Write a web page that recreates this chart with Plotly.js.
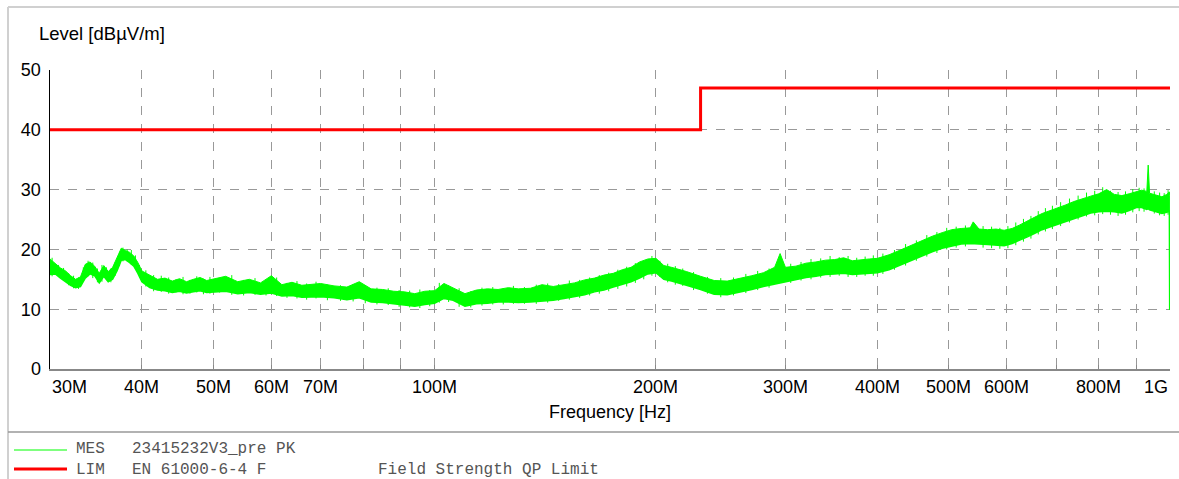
<!DOCTYPE html>
<html>
<head>
<meta charset="utf-8">
<script src="https://cdn.plot.ly/plotly-3.0.1.min.js"></script>
<style>
html,body{margin:0;padding:0;background:#fff;}
#chart{width:1179px;height:479px;}
</style>
</head>
<body>
<div id="chart"></div>
<script>
const mesFreq = [30,30.5,31,31.5,32,32.5,33,33.5,34,34.5,35,35.5,36,36.5,37,37.5,38,38.5,39,39.5,
  40,41,42,43,44,45,46,47,48,49,50,52,54,56,58,60,62,64,66,68,70,73,76,79,82,85,88,91,94,97,
  100,103,106,110,114,118,122,126,130,135,140,145,150,155,160,165,170,175,180,185,190,195,200,
  205,210,215,220,230,240,250,260,270,280,290,295,300,310,320,330,340,350,360,370,380,390,400,
  415,430,445,460,475,490,505,520,535,540,550,565,580,595,610,625,640,655,670,685,700,720,740,
  760,780,800,820,840,860,880,900,915,930,934,938,945,960,975,990,998,999,1000];
const mesLow = [15.8,15.9,15.2,14.6,14.0,13.6,13.8,15.2,15.9,15.6,14.4,15.5,14.6,15.0,16.4,18.2,18.3,17.8,17.2,16.0,
  14.6,13.6,13.2,13.1,12.8,13.0,12.7,12.9,13.1,12.8,12.9,13.0,12.6,12.8,12.5,12.7,12.2,12.3,12.0,12.0,12.1,11.9,11.6,11.9,11.2,11.1,10.9,10.8,10.5,10.8,
  11.0,11.8,11.5,10.5,10.9,11.0,11.2,11.2,11.1,11.2,11.3,11.5,11.8,12.1,12.4,12.9,13.2,13.7,14.1,14.6,15.2,15.9,16.1,
  15.0,14.7,14.3,14.0,13.3,12.5,12.4,12.8,13.3,13.8,14.2,14.4,14.6,14.9,15.3,15.5,15.8,15.9,16.0,15.8,15.9,16.0,16.1,
  16.6,17.4,18.2,18.9,19.6,20.2,20.6,20.9,21.0,21.0,20.9,20.8,20.7,20.6,21.0,21.5,22.1,22.7,23.3,23.7,24.1,24.6,25.2,
  25.7,26.1,26.3,26.4,26.3,26.1,26.5,27.0,27.0,26.7,26.8,26.6,26.5,26.3,26.0,26.2,26.4,10.0,10.0];
const mesHigh = [18.4,17.6,16.9,16.4,15.6,15.0,15.4,17.5,17.9,17.2,16.0,17.3,16.3,17.0,18.6,20.2,19.8,19.5,18.9,17.8,
  16.4,15.7,15.0,15.2,14.7,15.1,14.6,15.0,15.3,14.8,15.0,15.5,14.6,15.0,14.4,15.6,14.1,14.5,14.0,14.2,14.3,13.9,13.7,14.6,13.4,13.3,13.0,12.9,12.6,13.0,
  13.1,14.3,13.6,12.6,13.2,13.4,13.3,13.6,13.4,13.5,14.1,13.8,14.1,14.4,14.9,15.2,15.7,16.0,16.6,17.0,17.9,18.4,18.5,
  17.3,17.0,16.7,16.3,15.5,14.8,14.7,15.1,15.6,16.1,17.0,19.3,17.0,17.2,17.7,17.9,18.2,18.3,18.6,18.1,18.3,18.4,18.5,
  19.1,19.9,20.7,21.4,22.2,22.8,23.3,23.5,23.6,24.6,23.4,23.3,23.4,23.2,23.5,24.1,24.8,25.4,26.0,26.4,26.9,27.4,28.0,
  28.5,28.9,29.3,30.0,29.2,29.0,29.3,29.7,29.9,29.7,34.1,29.4,29.3,29.0,28.8,29.2,29.6,29.0,10.0];

// Individual noise peaks of the measured trace (frequency MHz, lowest / highest excursion dBµV/m)
const peakFreq = [30.2,30.8,31.3,31.8,32.3,32.8,33.3,33.8,34.3,34.8,35.3,35.8,36.3,36.8,37.3,37.7,38.2,38.7,39.2,39.7,
  40.5,41.5,42.5,43.5,44.5,45.5,46.5,47.5,48.5,49.5,51,53,55,57,59,61,63,65,67,69,71.5,74.5,77.5,80.5,83.5,86.5,89.5,92.5,95.5,98.5,
  101.5,104.5,108,112,116,120,124,128,132.5,137.5,142.5,147.5,152.5,157.5,162.5,167.5,172.5,177.5,182.5,187.5,192.5,197.5,
  202.5,207.5,212.5,217.5,225,235,245,255,265,275,285,305,315,325,335,345,355,365,375,385,395,
  407,422,437,452,467,482,497,512,527,557,572,587,602,617,632,647,662,677,692,710,730,750,770,790,810,830,850,870,890,908,922,952,968,982,994];
const peakLow = [15.5,15.6,14.9,14.0,13.5,13.4,14.6,15.5,15.2,14.5,14.6,14.9,14.5,15.6,17.2,18.0,18.0,17.4,16.8,15.3,
  13.8,13.0,12.9,12.6,12.8,12.5,12.6,12.8,12.5,12.6,12.8,12.4,12.3,12.4,12.3,12.2,11.9,11.8,11.6,11.8,11.5,11.4,11.3,11.0,10.8,10.7,10.4,10.3,10.2,10.5,
  11.1,11.2,10.4,10.3,10.6,10.8,10.8,10.9,10.9,10.9,11.1,11.4,11.6,11.9,12.3,12.6,13.0,13.4,13.8,14.4,15.0,15.6,
  15.4,14.5,14.1,13.9,13.2,12.6,12.0,12.3,12.7,13.2,13.6,14.4,14.8,15.0,15.3,15.4,15.6,15.4,15.4,15.6,15.6,
  15.9,16.6,17.3,18.1,18.8,19.4,20.0,20.3,20.5,20.3,20.2,20.1,20.2,20.7,21.3,21.8,22.5,23.0,23.4,23.9,24.5,25.0,25.5,25.7,25.9,25.8,25.6,25.8,26.2,26.4,26.3,26.0,25.7,25.6,25.8];
const peakHigh = [18.6,17.4,16.9,16.0,15.6,15.3,17.0,18.1,17.8,16.8,17.4,17.0,16.8,17.9,19.6,20.3,20.0,19.9,19.0,17.4,
  16.5,15.7,15.6,15.3,15.0,15.4,14.9,15.5,15.1,15.4,15.2,15.7,14.9,15.2,14.9,15.3,14.4,14.7,14.3,14.6,14.1,14.0,14.2,14.0,13.6,13.5,13.2,13.1,13.3,13.2,
  14.4,14.0,13.5,13.0,13.6,13.7,13.5,13.9,13.7,14.1,14.3,14.2,14.8,14.9,15.3,15.7,16.1,16.6,17.1,17.7,18.1,18.9,
  18.1,17.6,17.2,16.8,16.2,15.4,15.2,15.3,15.9,16.4,16.8,17.6,17.9,18.4,18.5,18.9,18.7,18.9,18.6,18.8,19.0,
  19.3,19.9,20.9,21.5,22.4,22.9,23.6,23.8,24.0,23.9,23.8,23.6,23.9,24.5,25.1,25.6,26.4,26.9,27.3,27.9,28.5,29.0,29.5,29.8,30.4,29.8,29.6,29.7,30.1,30.3,30.2,29.7,29.5,29.4,29.9];

// Limit line (LIM, EN 61000-6-4 QP)
const limFreq = [30, 230, 230, 1000];
const limLevel = [40, 40, 47, 47];

// Axis ticks / labels
const gridFreq = [30,40,50,60,70,80,90,100,200,300,400,500,600,700,800,900,1000];
const xLabelFreq = [30,40,50,60,70,100,200,300,400,500,600,800,1000];
const xLabelText = ['30M','40M','50M','60M','70M','100M','200M','300M','400M','500M','600M','800M','1G'];
const yTicks = [0,10,20,30,40,50];

// Legend rows: type, trace name, comment
const legendType = ['MES', 'LIM'];
const legendName = ['23415232V3_pre PK', 'EN 61000-6-4 F'];
const legendNote = ['', 'Field Strength QP Limit'];
const legendColor = ['#00ff00', '#ff0000'];

const W = 1179, H = 479;
const mL = 50, mR = 9, mT = 70, mB = 110;
const pw = W - mL - mR, ph = H - mT - mB;
const px = x => (x - mL) / pw;          // pixel -> paper x
const py = y => (H - mB - y) / ph;      // pixel -> paper y

const GREEN = '#00ff00';
const sans = 'Liberation Sans, Arial, sans-serif';
const mono = 'Liberation Mono, Courier New, monospace';

// vertical noise segments built from the peak arrays
const segX = [], segY = [];
peakFreq.forEach((f, i) => { segX.push(f, f, null); segY.push(peakLow[i], peakHigh[i], null); });

const traces = [
  {x: mesFreq, y: mesLow, type:'scatter', mode:'lines', line:{color:GREEN, width:1.5}, hoverinfo:'skip', showlegend:false},
  {x: mesFreq, y: mesHigh, type:'scatter', mode:'lines', fill:'tonexty', fillcolor:GREEN,
   line:{color:GREEN, width:1}, hoverinfo:'skip', showlegend:false},
  {x: segX, y: segY, type:'scatter', mode:'lines', connectgaps:false, line:{color:GREEN, width:1}, hoverinfo:'skip', showlegend:false},
  {x: limFreq, y: limLevel, type:'scatter', mode:'lines', line:{color:'#ff0000', width:3}, showlegend:false}
];

const annotations = [];
xLabelFreq.forEach((f, i) => {
  let anchor = 'center';
  if (i === 0) anchor = 'left';
  if (i === xLabelFreq.length - 1) anchor = 'right';
  annotations.push({x: Math.log10(f), xref:'x', y: py(387), yref:'paper', text: xLabelText[i],
    showarrow:false, xanchor: anchor, yanchor:'middle', font:{family:sans, size:18, color:'#000'}});
});
annotations.push({x: px(610), xref:'paper', y: py(412), yref:'paper', text:'Frequency [Hz]',
  showarrow:false, xanchor:'center', yanchor:'middle', font:{family:sans, size:18, color:'#000'}});
annotations.push({x: px(37), xref:'paper', y: py(33), yref:'paper', text:'Level [dBµV/m]',
  showarrow:false, xanchor:'left', yanchor:'middle', font:{family:sans, size:18.5, color:'#000'}});

const shapes = [
  {type:'line', xref:'paper', yref:'paper', x0:px(8), x1:px(1179), y0:py(7), y1:py(7), line:{color:'#d0d0d0', width:2}},
  {type:'line', xref:'paper', yref:'paper', x0:px(8), x1:px(8), y0:py(7), y1:py(479), line:{color:'#d0d0d0', width:2}},
  {type:'line', xref:'paper', yref:'paper', x0:px(8), x1:px(1179), y0:py(432), y1:py(432), line:{color:'#999', width:1.5}}
];
// legend sample lines
const rowLineY = [450, 469];
legendColor.forEach((c, i) => {
  shapes.push({type:'line', xref:'paper', yref:'paper', x0:px(14), x1:px(67), y0:py(rowLineY[i]), y1:py(rowLineY[i]),
    line:{color:c, width: i === 0 ? 1.2 : 3}});
});
// legend text columns (two lines each, so rows sit one line apart)
const legFont = {family:mono, size:16, color:'#555'};
const nb = s => s.replace(/ /g, '&nbsp;');
annotations.push({x: px(74), xref:'paper', y: py(459.5), yref:'paper', text: legendType.map(nb).join('<br>'),
  showarrow:false, xanchor:'left', yanchor:'middle', align:'left', font: legFont});
annotations.push({x: px(130), xref:'paper', y: py(459.5), yref:'paper', text: legendName.map(nb).join('<br>'),
  showarrow:false, xanchor:'left', yanchor:'middle', align:'left', font: legFont});
annotations.push({x: px(376), xref:'paper', y: py(459.5), yref:'paper', text: legendNote.map(s => s ? nb(s) : '&nbsp;').join('<br>'),
  showarrow:false, xanchor:'left', yanchor:'middle', align:'left', font: legFont});

const layout = {
  width: W, height: H,
  margin: {l:mL, r:mR, t:mT, b:mB, pad:0},
  paper_bgcolor:'#fff', plot_bgcolor:'#fff',
  showlegend:false,
  xaxis: {
    type:'log', range:[Math.log10(30), Math.log10(1000)],
    tickvals: gridFreq, showticklabels:false,
    ticks:'inside', ticklen:4, tickcolor:'#888',
    showgrid:true, gridcolor:'#999', griddash:'dash', gridwidth:1,
    showline:true, linecolor:'#888', linewidth:1.5, zeroline:false
  },
  yaxis: {
    range:[0,50], tickvals:yTicks, ticktext: yTicks.map(String),
    tickfont:{family:sans, size:18, color:'#000'}, ticks:'', ticklabelstandoff:4,
    showgrid:true, gridcolor:'#999', griddash:'dash', gridwidth:1,
    showline:true, linecolor:'#000', linewidth:1.5, zeroline:false
  },
  shapes: shapes,
  annotations: annotations
};

Plotly.newPlot('chart', traces, layout, {staticPlot:true, displayModeBar:false});
</script>
</body>
</html>
